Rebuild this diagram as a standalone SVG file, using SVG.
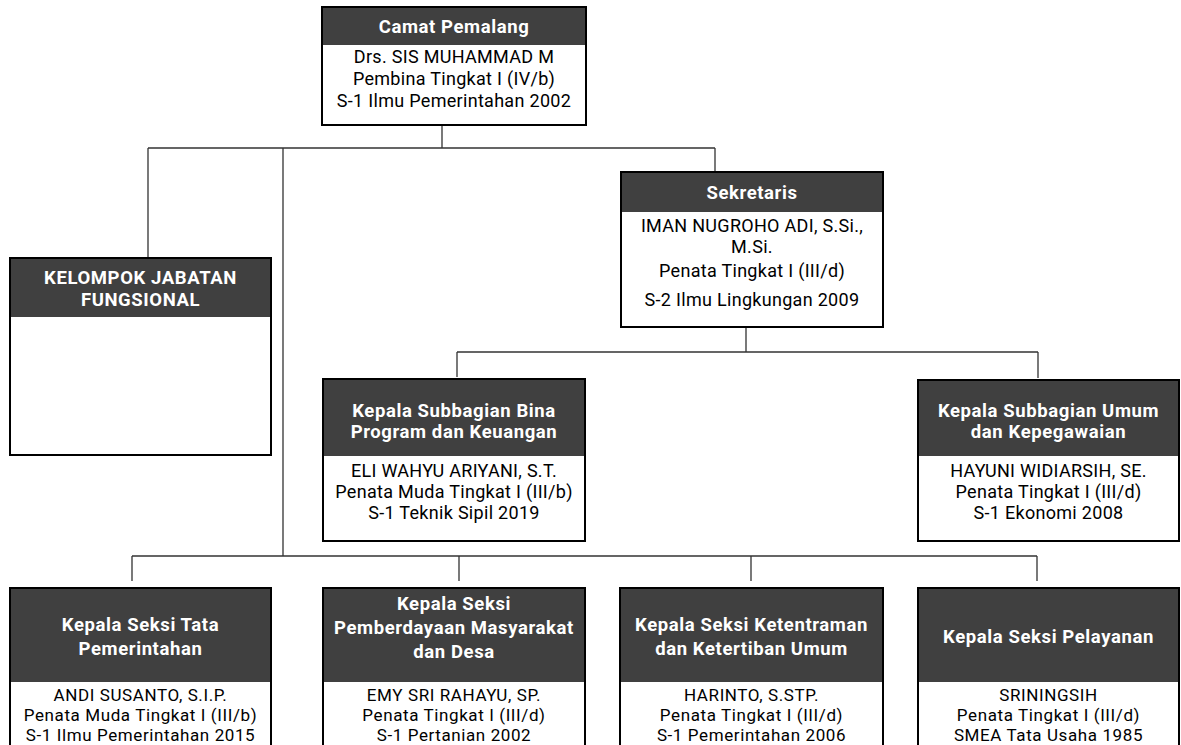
<svg xmlns="http://www.w3.org/2000/svg" width="1181" height="745" viewBox="0 0 1181 745">
<style>
.box{fill:#ffffff;stroke:#000000;stroke-width:2}
.hd{fill:#404040;stroke:none}
.ht{font-family:Roboto,"Liberation Sans",sans-serif;font-weight:bold;font-size:18.5px;letter-spacing:0.6px;fill:#ffffff;text-anchor:middle}
.bt{font-family:Roboto,"Liberation Sans",sans-serif;font-size:18px;letter-spacing:0.3px;fill:#000000;text-anchor:middle}
.bs{font-family:Roboto,"Liberation Sans",sans-serif;font-size:17px;letter-spacing:0.6px;fill:#000000;text-anchor:middle}
.con{fill:none;stroke:#333333;stroke-width:1.3}
</style>
<rect x="0" y="0" width="1181" height="745" fill="#ffffff"/>
<g id="connectors">
<path class="con" d="M442 125V148M148 148H715M148 148V258M715 148V172M283 148V556"/>
<path class="con" d="M746 327V352M457 352H1038M457 352V377M1038 352V378"/>
<path class="con" d="M132 556H1037M132 556V581M459 556V581M751 556V581M1037 556V581"/>
</g>
<g id="camat">
<rect class="box" x="322" y="7" width="264" height="118"/>
<rect class="hd" x="323" y="8" width="262" height="37"/>
<text class="ht" x="454" y="33">Camat Pemalang</text>
<text class="bt" x="454" y="63">Drs. SIS MUHAMMAD M</text>
<text class="bt" x="454" y="85">Pembina Tingkat I (IV/b)</text>
<text class="bt" x="454" y="107">S-1 Ilmu Pemerintahan 2002</text>
</g>
<g id="fungsional">
<rect class="box" x="10" y="258" width="261" height="197"/>
<rect class="hd" x="11" y="259" width="259" height="58"/>
<text class="ht" x="140.5" y="284">KELOMPOK JABATAN</text>
<text class="ht" x="140.5" y="306">FUNGSIONAL</text>
</g>
<g id="sekretaris">
<rect class="box" x="621" y="172" width="262" height="155"/>
<rect class="hd" x="622" y="173" width="260" height="39"/>
<text class="ht" x="752" y="199">Sekretaris</text>
<text class="bt" x="752" y="232">IMAN NUGROHO ADI, S.Si.,</text>
<text class="bt" x="752" y="253">M.Si.</text>
<text class="bt" x="752" y="277">Penata Tingkat I (III/d)</text>
<text class="bt" x="752" y="306">S-2 Ilmu Lingkungan 2009</text>
</g>
<g id="subbag-bina">
<rect class="box" x="323" y="379" width="262" height="162"/>
<rect class="hd" x="324" y="380" width="260" height="76"/>
<text class="ht" x="454" y="417">Kepala Subbagian Bina</text>
<text class="ht" x="454" y="438">Program dan Keuangan</text>
<text class="bt" x="454" y="477">ELI WAHYU ARIYANI, S.T.</text>
<text class="bt" x="454" y="498">Penata Muda Tingkat I (III/b)</text>
<text class="bt" x="454" y="519">S-1 Teknik Sipil 2019</text>
</g>
<g id="subbag-umum">
<rect class="box" x="918" y="380" width="261" height="161"/>
<rect class="hd" x="919" y="381" width="259" height="75"/>
<text class="ht" x="1048.5" y="417">Kepala Subbagian Umum</text>
<text class="ht" x="1048.5" y="438">dan Kepegawaian</text>
<text class="bt" x="1048.5" y="477">HAYUNI WIDIARSIH, SE.</text>
<text class="bt" x="1048.5" y="498">Penata Tingkat I (III/d)</text>
<text class="bt" x="1048.5" y="519">S-1 Ekonomi 2008</text>
</g>
<g id="seksi-tapem">
<rect class="box" x="10" y="588" width="261" height="180"/>
<rect class="hd" x="11" y="589" width="259" height="93"/>
<text class="ht" x="140.5" y="631">Kepala Seksi Tata</text>
<text class="ht" x="140.5" y="655">Pemerintahan</text>
<text class="bs" x="140.5" y="701">ANDI SUSANTO, S.I.P.</text>
<text class="bs" x="140.5" y="721">Penata Muda Tingkat I (III/b)</text>
<text class="bs" x="140.5" y="741">S-1 Ilmu Pemerintahan 2015</text>
</g>
<g id="seksi-pmd">
<rect class="box" x="323" y="588" width="262" height="180"/>
<rect class="hd" x="324" y="589" width="260" height="93"/>
<text class="ht" x="454" y="610">Kepala Seksi</text>
<text class="ht" x="454" y="634">Pemberdayaan Masyarakat</text>
<text class="ht" x="454" y="658">dan Desa</text>
<text class="bs" x="454" y="701">EMY SRI RAHAYU, SP.</text>
<text class="bs" x="454" y="721">Penata Tingkat I (III/d)</text>
<text class="bs" x="454" y="741">S-1 Pertanian 2002</text>
</g>
<g id="seksi-trantib">
<rect class="box" x="620" y="588" width="263" height="180"/>
<rect class="hd" x="621" y="589" width="261" height="93"/>
<text class="ht" x="751.5" y="631">Kepala Seksi Ketentraman</text>
<text class="ht" x="751.5" y="655">dan Ketertiban Umum</text>
<text class="bs" x="751.5" y="701">HARINTO, S.STP.</text>
<text class="bs" x="751.5" y="721">Penata Tingkat I (III/d)</text>
<text class="bs" x="751.5" y="741">S-1 Pemerintahan 2006</text>
</g>
<g id="seksi-pelayanan">
<rect class="box" x="918" y="588" width="261" height="180"/>
<rect class="hd" x="919" y="589" width="259" height="93"/>
<text class="ht" x="1048.5" y="643">Kepala Seksi Pelayanan</text>
<text class="bs" x="1048.5" y="701">SRININGSIH</text>
<text class="bs" x="1048.5" y="721">Penata Tingkat I (III/d)</text>
<text class="bs" x="1048.5" y="741">SMEA Tata Usaha 1985</text>
</g>
</svg>
